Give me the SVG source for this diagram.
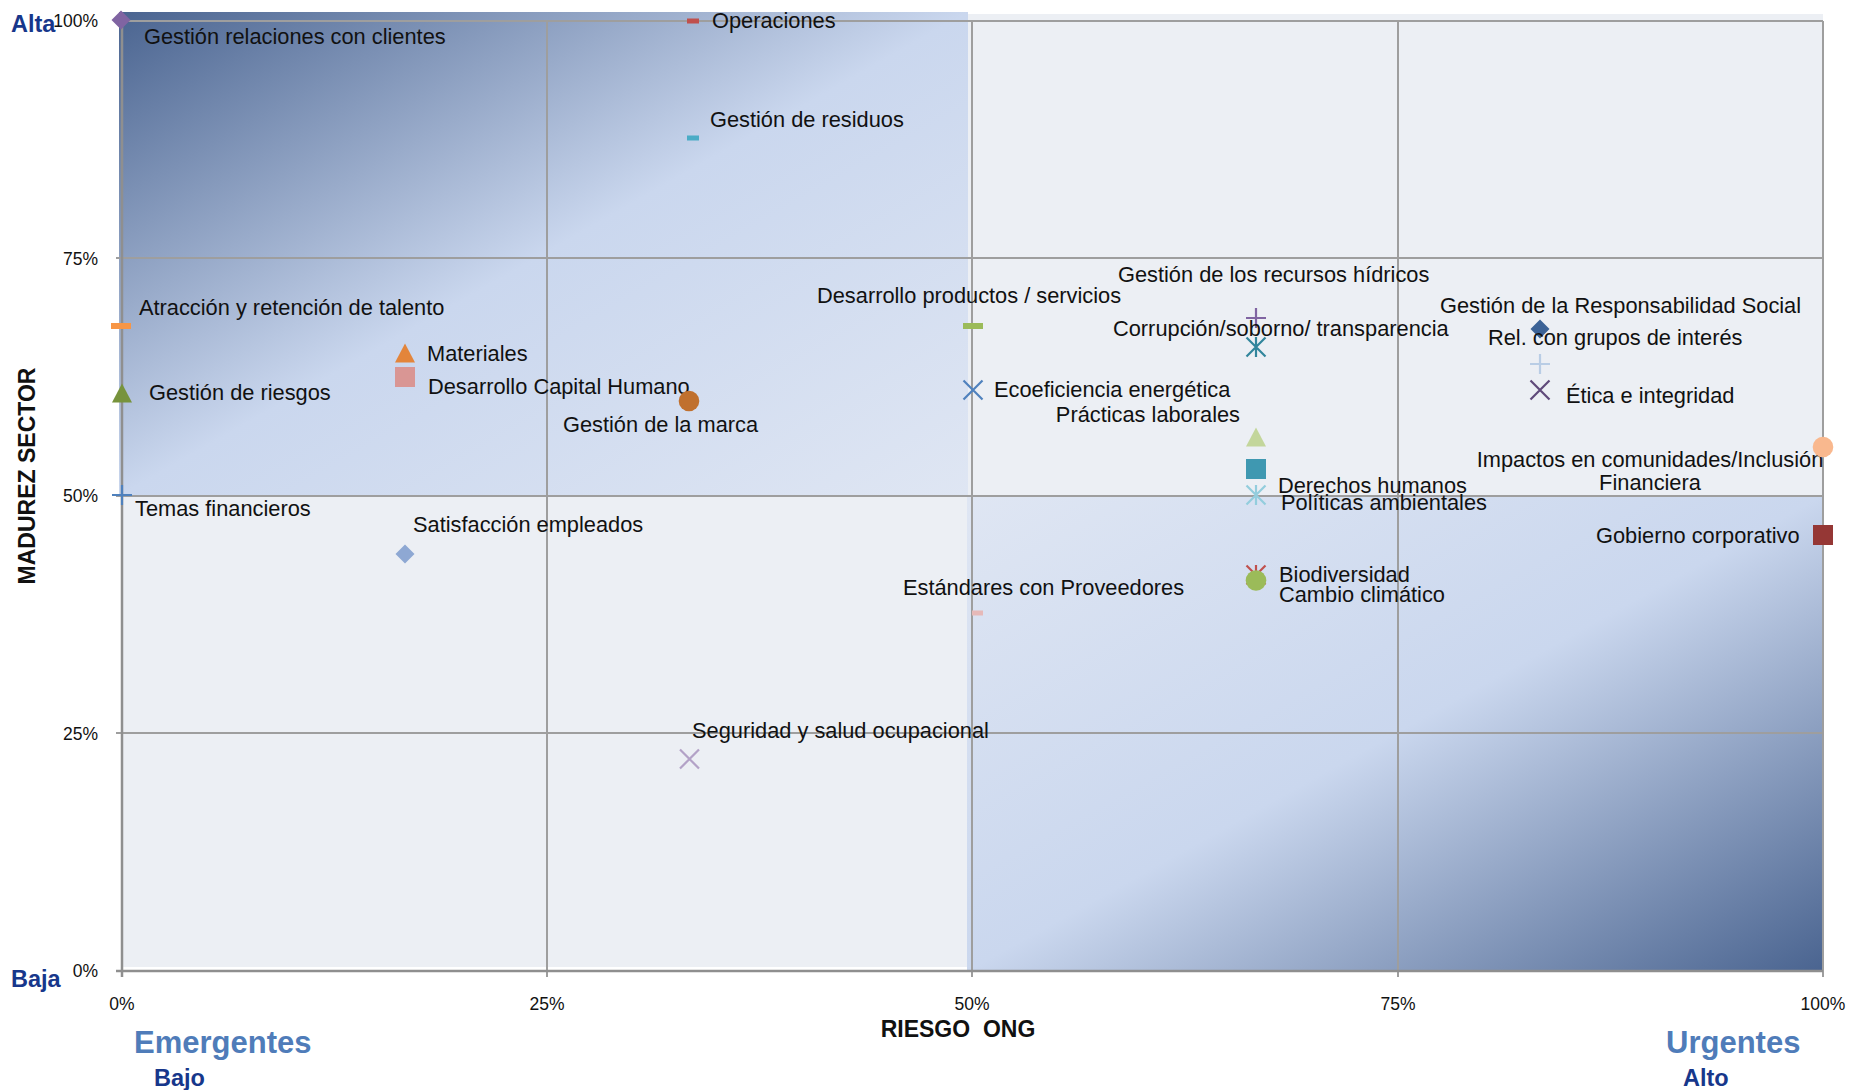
<svg xmlns="http://www.w3.org/2000/svg" xmlns:xlink="http://www.w3.org/1999/xlink" width="1849" height="1090" viewBox="0 0 1849 1090">
<style>
text{font-family:"Liberation Sans",Arial,Helvetica,sans-serif}
.lbl{font-size:21.8px;fill:#111}
.tick{font-size:17.5px;fill:#111}
.grid{stroke:#9E9E9E;stroke-width:2;fill:none}
.ax{stroke:#8F8F8F;stroke-width:2.5;fill:none}
.ln{fill:none;stroke-width:2.2}
.navy{font-weight:bold;font-size:23.5px;fill:#17378B}
.quad{font-weight:bold;font-size:31px;fill:#4F7CB9}
.axt{font-weight:bold;font-size:23px;fill:#111}
</style>
<defs>
<linearGradient id="gTL" x1="0" y1="0" x2="1" y2="1">
<stop offset="0" stop-color="#4A6490"/>
<stop offset="0.5" stop-color="#CAD7EE"/>
<stop offset="1" stop-color="#DFE6F3"/>
</linearGradient>
<linearGradient id="gBR" x1="1" y1="1" x2="0" y2="0">
<stop offset="0" stop-color="#4A6490"/>
<stop offset="0.5" stop-color="#CAD7EE"/>
<stop offset="1" stop-color="#DFE6F3"/>
</linearGradient>
<polygon id="mDia" points="0,-9.5 9.5,0 0,9.5 -9.5,0"/>
<polygon id="mTri" points="0,-9.5 10,9.5 -10,9.5"/>
<rect id="mSq" x="-10" y="-10" width="20" height="20"/>
<circle id="mCir" r="10.3"/>
<path id="mPlus" d="M-10,0H10M0,-10V10"/>
<path id="mX" d="M-9.5,-9.5L9.5,9.5M9.5,-9.5L-9.5,9.5"/>
<path id="mStar" d="M-9.5,-9.5L9.5,9.5M9.5,-9.5L-9.5,9.5M0,-10V10"/>
</defs>

<g id="background">
<rect x="0" y="0" width="1849" height="1090" fill="#FFFFFF"/>
<rect x="122" y="14" width="1701" height="953" fill="#ECEFF4"/>
<rect x="119" y="12" width="849" height="484" fill="url(#gTL)"/>
<rect x="967" y="496" width="855" height="475" fill="url(#gBR)"/>
</g>

<g id="grid">
<path class="grid" d="M116,21H1823M116,258H1823M116,496H1823M116,733H1823"/>
<path class="grid" d="M547,21V977M972,21V977M1398,21V977M1823,21V977"/>
<path class="grid" d="M116,971H122"/>
<path class="ax" d="M122,21V977M116,971H1823"/>
</g>

<g id="axis-labels">
<text class="tick" x="98" y="27" text-anchor="end">100%</text>
<text class="tick" x="98" y="265" text-anchor="end">75%</text>
<text class="tick" x="98" y="502" text-anchor="end">50%</text>
<text class="tick" x="98" y="740" text-anchor="end">25%</text>
<text class="tick" x="98" y="977" text-anchor="end">0%</text>
<text class="tick" x="122" y="1010" text-anchor="middle">0%</text>
<text class="tick" x="547" y="1010" text-anchor="middle">25%</text>
<text class="tick" x="972" y="1010" text-anchor="middle">50%</text>
<text class="tick" x="1398" y="1010" text-anchor="middle">75%</text>
<text class="tick" x="1823" y="1010" text-anchor="middle">100%</text>
<text class="axt" x="958" y="1037" text-anchor="middle" xml:space="preserve">RIESGO  ONG</text>
<text class="axt" x="35" y="476" text-anchor="middle" transform="rotate(-90 35 476)">MADUREZ SECTOR</text>
<text class="navy" x="11" y="32">Alta</text>
<text class="navy" x="11" y="987">Baja</text>
<text class="quad" x="134" y="1053">Emergentes</text>
<text class="navy" x="154" y="1086">Bajo</text>
<text class="quad" x="1666" y="1053">Urgentes</text>
<text class="navy" x="1683" y="1086">Alto</text>
</g>

<g id="connectors"></g>

<g id="n-relaciones-clientes">
<use xlink:href="#mDia" x="121" y="20" fill="#8064A2"/>
<text class="lbl" x="144" y="44">Gestión relaciones con clientes</text>
</g>
<g id="n-operaciones">
<rect x="687" y="18.5" width="12" height="5" fill="#C0504D"/>
<text class="lbl" x="712" y="28">Operaciones</text>
</g>
<g id="n-residuos">
<rect x="687" y="135.5" width="12" height="5" fill="#4BACC6"/>
<text class="lbl" x="710" y="127">Gestión de residuos</text>
</g>
<g id="n-talento">
<rect x="111" y="323" width="20" height="6" fill="#F79646"/>
<text class="lbl" x="139" y="315">Atracción y retención de talento</text>
</g>
<g id="n-riesgos">
<use xlink:href="#mTri" x="122" y="393" fill="#77933C"/>
<text class="lbl" x="149" y="400">Gestión de riesgos</text>
</g>
<g id="n-financieros">
<use xlink:href="#mPlus" x="122" y="495" class="ln" stroke="#4F81BD"/>
<text class="lbl" x="135" y="516">Temas financieros</text>
</g>
<g id="n-materiales">
<use xlink:href="#mTri" x="405" y="353" fill="#E3853B"/>
<text class="lbl" x="427" y="361">Materiales</text>
</g>
<g id="n-capital-humano">
<use xlink:href="#mSq" x="405" y="377" fill="#D99694"/>
<text class="lbl" x="428" y="394">Desarrollo Capital Humano</text>
</g>
<g id="n-marca">
<use xlink:href="#mCir" x="689" y="401" fill="#C0702E"/>
<text class="lbl" x="563" y="432">Gestión de la marca</text>
</g>
<g id="n-productos">
<rect x="963" y="323" width="20" height="6" fill="#9BBB59"/>
<text class="lbl" x="817" y="303">Desarrollo productos / servicios</text>
</g>
<g id="n-ecoeficiencia">
<use xlink:href="#mX" x="973" y="390" class="ln" stroke="#4F81BD"/>
<text class="lbl" x="994" y="397">Ecoeficiencia energética</text>
</g>
<g id="n-hidricos">
<use xlink:href="#mPlus" x="1256" y="318" class="ln" stroke="#8064A2"/>
<text class="lbl" x="1118" y="282">Gestión de los recursos hídricos</text>
</g>
<g id="n-corrupcion">
<use xlink:href="#mStar" x="1256" y="347" class="ln" stroke="#31859C"/>
<text class="lbl" x="1113" y="336">Corrupción/soborno/ transparencia</text>
</g>
<g id="n-practicas">
<use xlink:href="#mTri" x="1256" y="437" fill="#C3D69B"/>
<text class="lbl" x="1240" y="422" text-anchor="end">Prácticas laborales</text>
</g>
<g id="n-derechos">
<use xlink:href="#mSq" x="1256" y="469" fill="#3F98B1"/>
<text class="lbl" x="1278" y="493">Derechos humanos</text>
</g>
<g id="n-ambientales">
<use xlink:href="#mStar" x="1256" y="495" class="ln" stroke="#93CDDD"/>
<text class="lbl" x="1281" y="510">Políticas ambientales</text>
</g>
<g id="n-biodiversidad">
<use xlink:href="#mStar" x="1256" y="575" class="ln" stroke="#C0504D"/>
<text class="lbl" x="1279" y="582">Biodiversidad</text>
</g>
<g id="n-cambio-climatico">
<use xlink:href="#mCir" x="1256" y="580.5" fill="#9BBB59"/>
<text class="lbl" x="1279" y="602">Cambio climático</text>
</g>
<g id="n-proveedores">
<rect x="972" y="610.5" width="11" height="5" fill="#E6B9B8"/>
<text class="lbl" x="903" y="595">Estándares con Proveedores</text>
</g>
<g id="n-seguridad">
<use xlink:href="#mX" x="689.5" y="759" class="ln" stroke="#B3A2C7"/>
<text class="lbl" x="692" y="738">Seguridad y salud ocupacional</text>
</g>
<g id="n-satisfaccion">
<use xlink:href="#mDia" x="405" y="554" fill="#8EA8D3"/>
<text class="lbl" x="413" y="532">Satisfacción empleados</text>
</g>
<g id="n-responsabilidad-social">
<use xlink:href="#mDia" x="1540" y="329" fill="#3B6296"/>
<text class="lbl" x="1440" y="313">Gestión de la Responsabilidad Social</text>
</g>
<g id="n-grupos-interes">
<use xlink:href="#mPlus" x="1540" y="364" class="ln" stroke="#B9CDE5"/>
<text class="lbl" x="1488" y="345">Rel. con grupos de interés</text>
</g>
<g id="n-etica">
<use xlink:href="#mX" x="1540" y="390" class="ln" stroke="#5F497A"/>
<text class="lbl" x="1566" y="403">Ética e integridad</text>
</g>
<g id="n-impactos">
<text class="lbl" x="1650" y="467" text-anchor="middle">Impactos en comunidades/Inclusión</text>
<text class="lbl" x="1650" y="490" text-anchor="middle">Financiera</text>
<use xlink:href="#mCir" x="1823" y="447" fill="#F9B88E"/>
</g>
<g id="n-gobierno">
<use xlink:href="#mSq" x="1823" y="535" fill="#953735"/>
<text class="lbl" x="1596" y="543">Gobierno corporativo</text>
</g>
</svg>
